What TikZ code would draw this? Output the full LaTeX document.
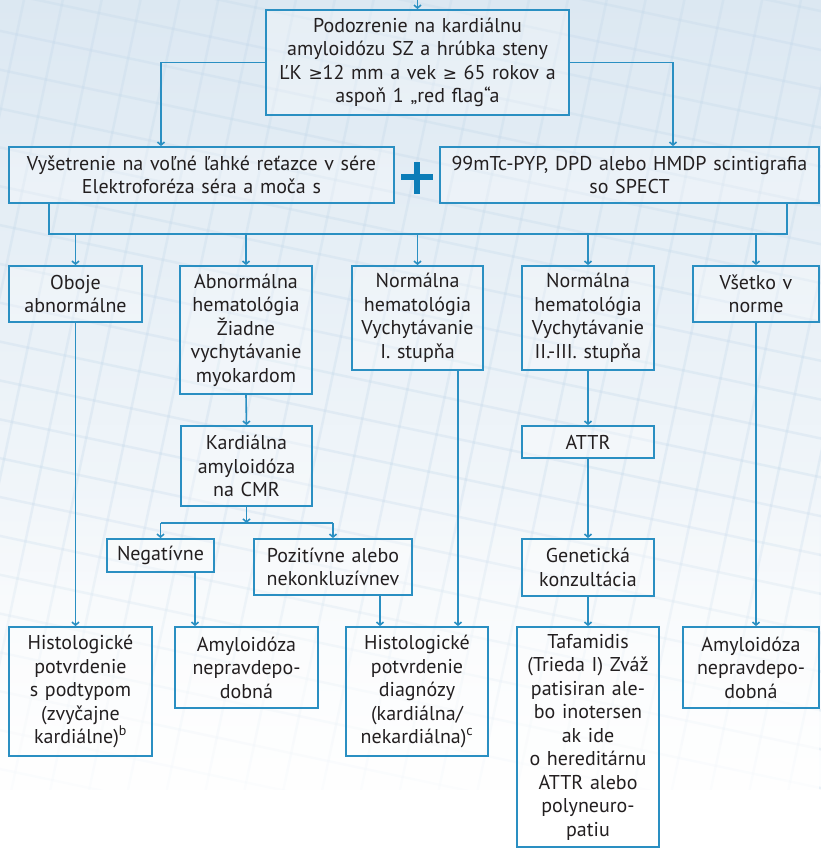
\documentclass[tikz,border=0pt]{standalone}
\usepackage{fontspec}
\setmainfont{PT Sans}
\newfontfamily\symf{DejaVu Sans}
\usetikzlibrary{arrows.meta,fadings}
\definecolor{lineblue}{HTML}{2A8FC2}
\definecolor{plusblue}{HTML}{0B7DB8}
\definecolor{txt}{HTML}{231F20}
\definecolor{bgA}{HTML}{DCE8F2}
\definecolor{grd}{HTML}{C3D8EA}
% greater-or-equal sign taken from DejaVu Sans
\newcommand{\gesign}{{\symf\fontsize{17}{20}\selectfont ≥}}
\begin{document}
\begin{tikzpicture}[x=1pt,y=-1pt,
  box/.style={draw=lineblue, line width=1.8pt, fill=white, fill opacity=0.3,
    text opacity=1, text=txt, align=center, inner sep=0pt,
    font=\fontsize{20}{23.5}\selectfont},
  arr/.style={draw=lineblue, line width=1.6pt,
    -{Straight Barb[length=3pt,width=7pt]}},
  wire/.style={draw=lineblue, line width=1.6pt}]

% page and background
\useasboundingbox (0,0) rectangle (821,849);
\begin{scope}
  \clip (0,0) rectangle (821,849);
  \shade[top color=bgA, bottom color=white] (0,0) rectangle (821,849);
  \begin{scope}[rotate around={-12:(410,300)}]
    \foreach \i in {-600,-562,...,1500} {
      \draw[grd, line width=2.5pt, opacity=0.3] (\i,-600) -- (\i,1500);
      \draw[grd, line width=2.5pt, opacity=0.3] (-600,\i) -- (1500,\i);
    }
  \end{scope}
  \fill[white, path fading=north] (0,480) rectangle (821,849);
  \fill[white] (0,790) rectangle (821,849);
\end{scope}

% boxes
\node[box, text width=303pt, minimum height=105pt] (top) at (417.5,62.5)
  {Podozrenie na kardiálnu\\amyloidózu SZ a hrúbka steny\\ĽK \gesign12 mm a vek \gesign\ 65 rokov a\\aspoň 1 „red flag“a};
\node[box, text width=385pt, minimum height=56pt] (L) at (201.5,175)
  {Vyšetrenie na voľné ľahké reťazce v sére\\Elektroforéza séra a moča s};
\node[box, text width=379pt, minimum height=56pt] (R) at (629.5,175)
  {99mTc-PYP, DPD alebo HMDP scintigrafia\\so SPECT};

\node[box, text width=133pt, minimum height=56pt] (b1) at (75.5,294)
  {Oboje\\abnormálne};
\node[box, text width=132pt, minimum height=128pt] (b2) at (246,330)
  {Abnormálna\\hematológia\\Žiadne\\vychytávanie\\myokardom};
\node[box, text width=131pt, minimum height=104pt] (b3) at (417.5,318)
  {Normálna\\hematológia\\Vychytávanie\\I. stupňa};
\node[box, text width=132pt, minimum height=104pt] (b4) at (588,318)
  {Normálna\\hematológia\\Vychytávanie\\II.-III. stupňa};
\node[box, text width=126pt, minimum height=56pt] (b5) at (756,294)
  {Všetko v\\norme};

\node[box, text width=131pt, minimum height=80pt] (kard) at (246.5,466)
  {Kardiálna\\amyloidóza\\na CMR};
\node[box, text width=107pt, minimum height=33pt] (neg) at (160.5,555.5)
  {Negatívne};
\node[box, text width=158pt, minimum height=56pt] (poz) at (333,567)
  {Pozitívne alebo\\nekonkluzívnev};
\node[box, text width=132pt, minimum height=32pt] (attr) at (588,442)
  {ATTR};
\node[box, text width=132pt, minimum height=57pt] (gen) at (588,567.5)
  {Genetická\\konzultácia};

\node[box, text width=143pt, minimum height=129pt] (h1) at (80.5,691.5)
  {Histologické\\potvrdenie\\s podtypom\\(zvyčajne\\kardiálne)\textsuperscript{b}};
\node[box, text width=143pt, minimum height=81pt] (am1) at (246.5,667.5)
  {Amyloidóza\\nepravdepo-\\dobná};
\node[box, text width=142pt, minimum height=129pt] (h2) at (417,691.5)
  {Histologické\\potvrdenie\\diagnózy\\(kardiálna/\\nekardiálna)\textsuperscript{c}};
\node[box, text width=142pt, minimum height=220pt] (taf) at (588,737)
  {Tafamidis\\(Trieda I) Zváž\\patisiran ale-\\bo inotersen\\ak ide\\o hereditárnu\\ATTR alebo\\polyneuro-\\patiu};
\node[box, text width=136pt, minimum height=81pt] (am2) at (751,667.5)
  {Amyloidóza\\nepravdepo-\\dobná};

% plus sign between the two tests
\fill[plusblue] (401,174) rectangle (433,180);
\fill[plusblue] (414,162) rectangle (420,194);

% connectors
\coordinate (entry) at (417.5,0);
\draw[arr] (entry) -- (top.north);
\draw[arr] (top.west) -| ([xshift=-40.5pt]L.north);
\draw[arr] (top.east) -| ([xshift=43.5pt]R.north);

\coordinate (busL) at (49,234);
\coordinate (busR) at (787,234);
\draw[wire] ([xshift=-152.5pt]L.south) -- (busL) -- (busR) -- ([xshift=157.5pt]R.south);
\foreach \n in {b1,b2,b3,b4,b5}
  \draw[arr] (\n.north |- busL) -- (\n.north);

\draw[arr] (b1.south) -- (b1.south |- h1.north);
\draw[arr] (b2.south) -- (kard.north);
\draw[arr] ([xshift=40.5pt]b3.south) -- ([xshift=40.5pt]b3.south |- h2.north);
\draw[arr] (b4.south) -- (attr.north);
\draw[arr] (attr.south) -- (gen.north);
\draw[arr] (gen.south) -- (taf.north);
\draw[arr] (b5.south) -- (b5.south |- am2.north);

\coordinate (cmrbus) at (246.5,523);
\draw[arr] (kard.south) -- (cmrbus);
\draw[wire] (neg.north |- cmrbus) -- (poz.north |- cmrbus);
\draw[arr] (neg.north |- cmrbus) -- (neg.north);
\draw[arr] (poz.north |- cmrbus) -- (poz.north);

\draw[arr] ([xshift=34.5pt]neg.south) -- ([xshift=34.5pt]neg.south |- am1.north);
\draw[arr] ([xshift=47pt]poz.south) -- ([xshift=47pt]poz.south |- h2.north);
\end{tikzpicture}
\end{document}
